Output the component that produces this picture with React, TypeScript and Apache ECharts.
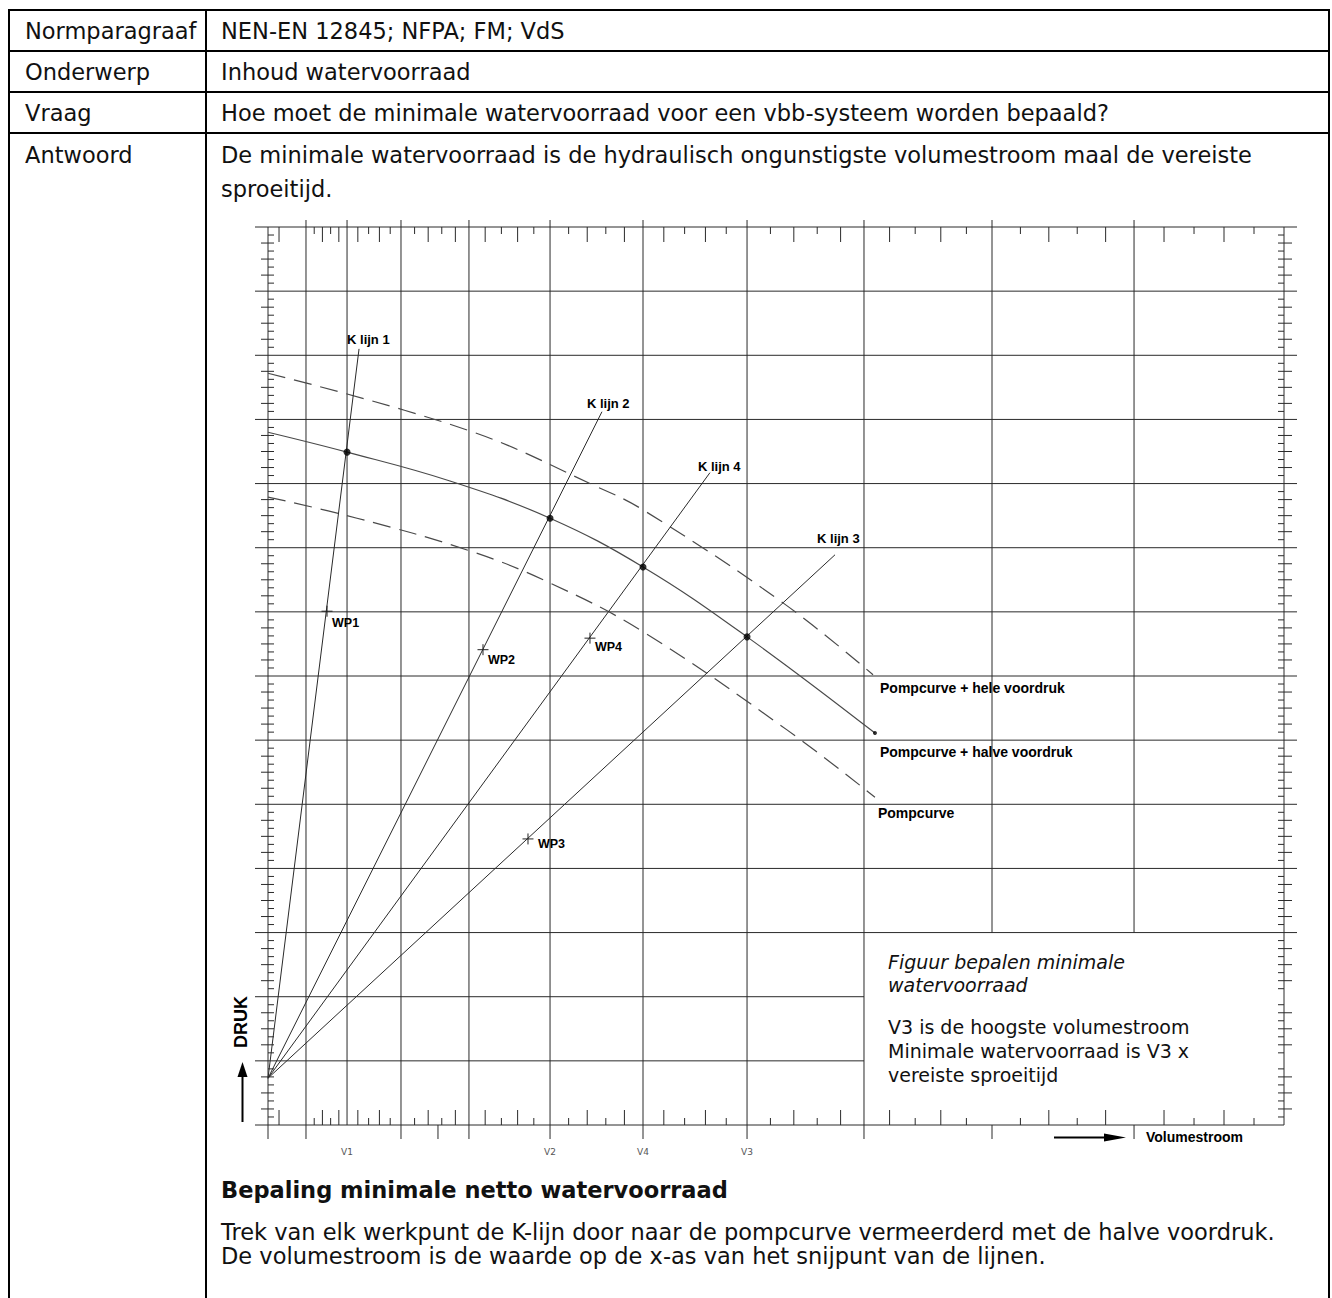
import React, { useEffect, useRef } from "react";
import * as echarts from "echarts";

// ---------------- data ----------------
// x axis is a 0..100 volume scale, y axis a 0..14 pressure scale
const gridLinesX = [0, 3.74, 7.78, 13.09, 19.78, 27.76, 36.91, 47.15, 58.66, 71.26, 85.24, 100];
const belowAxisX = [0, 3.74, 13.09, 16.73, 19.78, 27.76, 36.91, 47.15, 58.66, 71.26, 85.24];
const yLevels = [0, 1, 2, 3, 4, 5, 6, 7, 8, 9, 10, 11, 12, 13, 14];
const xTickNames = ["V1", "V2", "V4", "V3"];
const xTickValues = [7.78, 27.76, 36.91, 47.15];
const noteBoxLeft = 58.66;
const noteBoxTop = 3;

const curveFullX = [0, 19.88, 32.38, 36.91, 50.69, 59.55];
const curveFullY = [11.72, 10.82, 9.95, 9.59, 8.14, 7.02];
const curveHalfX = [0, 7.78, 17.91, 27.76, 36.91, 47.15, 59.74];
const curveHalfY = [10.8, 10.49, 10.04, 9.46, 8.7, 7.61, 6.11];
const curvePumpX = [0, 8.76, 19.88, 27.76, 36.91, 51.08, 59.74];
const curvePumpY = [9.79, 9.46, 8.95, 8.45, 7.69, 6.16, 5.11];
const curveNames = ["Pompcurve + hele voordruk", "Pompcurve + halve voordruk", "Pompcurve"];

const kOrigin = [0, 0.73];
const kNames = ["K lijn 1", "K lijn 2", "K lijn 4", "K lijn 3"];
const kEndX = [8.96, 32.87, 43.5, 55.81];
const kEndY = [12.1, 11.12, 10.17, 8.89];

const wpNames = ["WP1", "WP2", "WP4", "WP3"];
const wpX = [5.81, 21.16, 31.69, 25.59];
const wpY = [8.01, 7.41, 7.59, 4.46];

const dotX = [7.78, 27.76, 36.91, 47.15];
const dotY = [10.49, 9.46, 8.7, 7.61];

const rowLabels = ["Normparagraaf", "Onderwerp", "Vraag", "Antwoord"];
const rowValues = [
  "NEN-EN 12845; NFPA; FM; VdS",
  "Inhoud watervoorraad",
  "Hoe moet de minimale watervoorraad voor een vbb-systeem worden bepaald?",
  "De minimale watervoorraad is de hydraulisch ongunstigste volumestroom maal de vereiste",
];
const answerLine2 = "sproeitijd.";
const noteTitle = ["Figuur bepalen minimale", "watervoorraad"];
const noteBody = ["V3 is de hoogste volumestroom", "Minimale watervoorraad is V3 x", "vereiste sproeitijd"];
const footerTitle = "Bepaling minimale netto watervoorraad";
const footerLines = [
  "Trek van elk werkpunt de K-lijn door naar de pompcurve vermeerderd met de halve voordruk.",
  "De volumestroom is de waarde op de x-as van het snijpunt van de lijnen.",
];

// ---------------- layout (pixels) ----------------
const W = 1332;
const H = 1298;
const GRID = { left: 268, top: 227, right: W - 1284, bottom: H - 1125 };
const INK = "#2a2a2a";
const CURVE = "#4a4a4a";
const TXT = '"DejaVu Sans", Verdana, sans-serif';
const CAD = '"Liberation Sans", Arial, sans-serif';
const kLabelOffset = [[-12, -9], [-15, -8], [-12, -6], [-18, -16]];
const wpLabelOffset = [[5, 12], [5, 10], [5, 9], [10, 5]];
const curveLabelOffset = [[7, 13], [5, 19], [3, 16]];

const zip = (xs: number[], ys: number[]) => xs.map((x, i) => [x, ys[i]]);

function frameRender(_params: any, api: any) {
  const P = (x: number, y: number) => api.coord([x, y]);
  const kids: any[] = [];
  const ln = (x1: number, y1: number, x2: number, y2: number, w = 1) =>
    kids.push({ type: "line", shape: { x1, y1, x2, y2 }, style: { stroke: INK, lineWidth: w } });
  const [x0, yBot] = P(0, 0);
  const [x100, yTop] = P(100, 14);
  yLevels.forEach((v) => {
    const yy = P(0, v)[1];
    let xr = x100 + 13;
    if (v === 0) xr = x100;
    else if (v < noteBoxTop) xr = P(noteBoxLeft, v)[0];
    ln(x0 - 13, yy, xr, yy);
  });
  gridLinesX.forEach((v) => {
    const xx = P(v, 0)[0];
    const edge = v === 0 || v === 100;
    const yStart = edge ? yTop : yTop - 7;
    const yEnd = !edge && v > noteBoxLeft + 0.01 ? P(v, noteBoxTop)[1] : yBot;
    ln(xx, yStart, xx, yEnd);
  });
  belowAxisX.forEach((v) => {
    const xx = P(v, 0)[0];
    ln(xx, yBot, xx, yBot + 14);
  });
  // top & bottom subdivision ticks
  const tickAt = (xv: number, tall: boolean) => {
    const xx = P(xv, 0)[0];
    const len = tall ? 15 : 7;
    ln(xx, yTop, xx, yTop + len);
    ln(xx, yBot, xx, yBot - len);
  };
  tickAt(gridLinesX[0] + 0.29 * (gridLinesX[1] - gridLinesX[0]), true);
  for (let k = 1; k < gridLinesX.length - 1; k++) {
    const a = gridLinesX[k];
    const b = gridLinesX[k + 1];
    for (let j = 1; j <= 4; j++) {
      const tall = k % 2 === 1 ? j % 2 === 0 : j % 2 === 1;
      tickAt(a + (j / 5) * (b - a), tall);
    }
  }
  // left & right ticks
  for (let v = 0; v < 14; v++) {
    for (let s = 1; s < 8; s++) {
      const yy = P(0, v + s / 8)[1];
      const q = s % 2 === 0;
      ln(x0 - (q ? 7 : 0), yy, x0 + 6, yy);
      ln(x100 - 6, yy, x100 + (q ? 8 : 0), yy);
    }
  }
  return { type: "group", children: kids };
}

function textEl(text: string, x: number, y: number, font: any, extra: any = {}) {
  return {
    type: "text",
    silent: true,
    style: {
      text,
      x,
      y,
      fill: "#111",
      fontSize: font.size,
      fontFamily: font.family,
      fontWeight: font.weight || "normal",
      fontStyle: font.style || "normal",
      align: "left",
      verticalAlign: "middle",
      textAlign: "left",
      textVerticalAlign: "middle",
      ...extra,
    },
  };
}

function App() {
  const ref = useRef<HTMLDivElement>(null);
  useEffect(() => {
    if (!ref.current) return;
    const chart = echarts.init(ref.current, null, { renderer: "svg" });

    const lineEl = (x1: number, y1: number, x2: number, y2: number, w = 2) => ({
      type: "line",
      silent: true,
      shape: { x1, y1, x2, y2 },
      style: { stroke: "#000", lineWidth: w },
    });

    const tableFont = { size: 22.5, family: TXT };
    const graphics: any[] = [
      lineEl(8, 10, 1330, 10),
      lineEl(8, 51, 1330, 51),
      lineEl(8, 92, 1330, 92),
      lineEl(8, 133, 1330, 133),
      lineEl(9, 10, 9, H),
      lineEl(206, 10, 206, H),
      lineEl(1329, 10, 1329, H),
    ];
    const rowY = [31, 72, 113];
    rowLabels.forEach((t, i) => graphics.push(textEl(t, 25, i < 3 ? rowY[i] : 155, tableFont)));
    rowValues.forEach((t, i) => graphics.push(textEl(t, 221, i < 3 ? rowY[i] : 155, tableFont)));
    graphics.push(textEl(answerLine2, 221, 189, tableFont));
    graphics.push(textEl(footerTitle, 221, 1190, { size: 22.5, family: TXT, weight: "bold" }));
    footerLines.forEach((t, i) => graphics.push(textEl(t, 221, 1232 + i * 24, tableFont)));

    const noteFont = { size: 19, family: TXT };
    noteTitle.forEach((t, i) => graphics.push(textEl(t, 888, 962 + i * 23, { ...noteFont, style: "italic" })));
    noteBody.forEach((t, i) => graphics.push(textEl(t, 888, 1027 + i * 24, noteFont)));

    // DRUK arrow
    graphics.push({
      type: "text",
      silent: true,
      x: 241,
      y: 1022,
      rotation: Math.PI / 2,
      style: {
        text: "DRUK",
        x: 0,
        y: 0,
        fill: "#000",
        fontSize: 18,
        fontFamily: CAD,
        fontWeight: "bold",
        align: "center",
        verticalAlign: "middle",
        textAlign: "center",
        textVerticalAlign: "middle",
      },
    });
    graphics.push(lineEl(242.5, 1122, 242.5, 1075, 2));
    graphics.push({
      type: "polygon",
      silent: true,
      shape: { points: [[237.5, 1077], [247.5, 1077], [242.5, 1062]] },
      style: { fill: "#000" },
    });
    // Volumestroom arrow
    graphics.push(lineEl(1054, 1137.5, 1108, 1137.5, 2));
    graphics.push({
      type: "polygon",
      silent: true,
      shape: { points: [[1104, 1133.5], [1104, 1141.5], [1126, 1137.5]] },
      style: { fill: "#000" },
    });
    graphics.push(textEl("Volumestroom", 1146, 1137, { size: 14, family: CAD, weight: "bold" }, { fill: "#000" }));

    const curveSeries = (name: string, xs: number[], ys: number[], dashed: boolean) => ({
      name,
      type: "line",
      data: zip(xs, ys),
      smooth: 0.4,
      symbol: "none",
      z: 3,
      silent: true,
      lineStyle: { color: CURVE, width: 1.2, type: dashed ? [18, 9] : "solid" },
    });

    const kSeries = kNames.map((n, i) => ({
      name: n,
      type: "line",
      data: [kOrigin, [kEndX[i], kEndY[i]]],
      symbol: "none",
      z: 3,
      silent: true,
      lineStyle: { color: INK, width: 1 },
    }));

    const curveEnds = [
      [curveFullX[curveFullX.length - 1], curveFullY[curveFullY.length - 1]],
      [curveHalfX[curveHalfX.length - 1], curveHalfY[curveHalfY.length - 1]],
      [curvePumpX[curvePumpX.length - 1], curvePumpY[curvePumpY.length - 1]],
    ];
    const labelItems: any[] = [];
    kNames.forEach((n, i) => labelItems.push({ text: n, at: [kEndX[i], kEndY[i]], off: kLabelOffset[i], size: 13 }));
    wpNames.forEach((n, i) => labelItems.push({ text: n, at: [wpX[i], wpY[i]], off: wpLabelOffset[i], size: 12.5 }));
    curveNames.forEach((n, i) => labelItems.push({ text: n, at: curveEnds[i], off: curveLabelOffset[i], size: 14 }));

    const option: any = {
      animation: false,
      backgroundColor: "#fff",
      grid: GRID,
      xAxis: {
        type: "value",
        min: 0,
        max: 100,
        axisLine: { show: false },
        axisTick: { show: false },
        splitLine: { show: false },
        axisLabel: {
          customValues: xTickValues,
          margin: 22,
          fontSize: 9,
          fontFamily: TXT,
          color: "#555",
          formatter: (v: number) => {
            const i = xTickValues.findIndex((t) => Math.abs(t - v) < 0.01);
            return i >= 0 ? xTickNames[i] : "";
          },
        },
      },
      yAxis: {
        type: "value",
        min: 0,
        max: 14,
        interval: 1,
        axisLine: { show: false },
        axisTick: { show: false },
        splitLine: { show: false },
        axisLabel: { show: false },
      },
      graphic: graphics,
      series: [
        {
          name: "frame",
          type: "custom",
          silent: true,
          z: 1,
          data: [[0, 0]],
          renderItem: frameRender,
        },
        curveSeries(curveNames[0], curveFullX, curveFullY, true),
        curveSeries(curveNames[1], curveHalfX, curveHalfY, false),
        curveSeries(curveNames[2], curvePumpX, curvePumpY, true),
        ...kSeries,
        {
          name: "snijpunten",
          type: "scatter",
          silent: true,
          z: 5,
          symbol: "circle",
          symbolSize: 7,
          itemStyle: { color: "#000" },
          data: zip(dotX, dotY),
        },
        {
          name: "eindpunt",
          type: "scatter",
          silent: true,
          z: 5,
          symbol: "circle",
          symbolSize: 4,
          itemStyle: { color: "#000" },
          data: [curveEnds[1]],
        },
        {
          name: "werkpunten",
          type: "custom",
          silent: true,
          z: 6,
          data: zip(wpX, wpY),
          renderItem: (_p: any, api: any) => {
            const c = api.coord([api.value(0), api.value(1)]);
            const a = 5.5;
            return {
              type: "group",
              children: [
                { type: "line", shape: { x1: c[0] - a, y1: c[1], x2: c[0] + a, y2: c[1] }, style: { stroke: "#222", lineWidth: 1 } },
                { type: "line", shape: { x1: c[0], y1: c[1] - a, x2: c[0], y2: c[1] + a }, style: { stroke: "#222", lineWidth: 1 } },
              ],
            };
          },
        },
        {
          name: "labels",
          type: "custom",
          silent: true,
          z: 7,
          data: labelItems.map((l) => l.at),
          renderItem: (p: any, api: any) => {
            const l = labelItems[p.dataIndex];
            const c = api.coord([api.value(0), api.value(1)]);
            return textEl(l.text, c[0] + l.off[0], c[1] + l.off[1], { size: l.size, family: CAD, weight: "bold" }, { fill: "#000" });
          },
        },
      ],
    };
    chart.setOption(option);
    return () => chart.dispose();
  }, []);
  return (
    <div
      ref={ref}
      style={{ position: "absolute", left: 0, top: 0, width: W, height: H, background: "#fff" }}
    />
  );
}

export default App;
